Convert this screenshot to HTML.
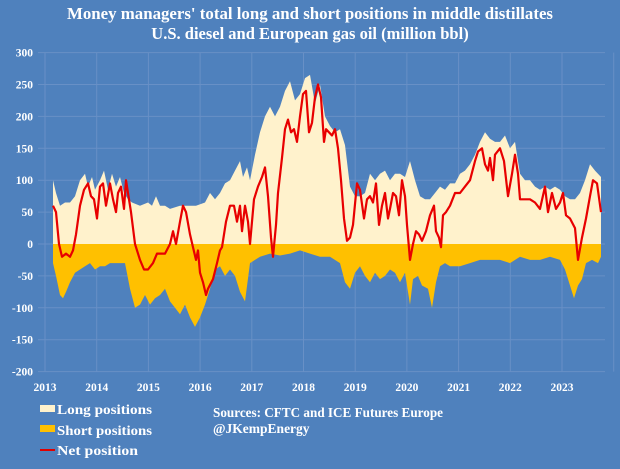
<!DOCTYPE html>
<html><head><meta charset="utf-8"><style>
html,body{margin:0;padding:0;background:#4F81BD;}
svg{display:block;font-family:"Liberation Serif",serif;}
</style></head><body>
<svg id="s" width="620" height="469" viewBox="0 0 620 469">
<rect width="620" height="469" fill="#4F81BD"/>
<text x="310" y="19" fill="#fff" font-size="16.5" font-weight="bold" text-anchor="middle" textLength="486" lengthAdjust="spacingAndGlyphs">Money managers' total long and short positions in middle distillates</text>
<text x="310" y="39" fill="#fff" font-size="16.5" font-weight="bold" text-anchor="middle">U.S. diesel and European gas oil  (million bbl)</text>
<g id="grid" stroke="#6890C6" stroke-width="1"></g>
<g id="data"></g>
<g id="labels" fill="#fff" font-size="11.5" font-weight="bold"></g>
<rect x="40" y="405" width="15" height="7" fill="#FFF2CC"/>
<rect x="40" y="425" width="15" height="7" fill="#FFC000"/>
<rect x="40" y="449" width="15" height="2" fill="#E00000"/>
<g fill="#fff" font-size="13.5" font-weight="bold">
<text x="57" y="414" textLength="95" lengthAdjust="spacingAndGlyphs">Long positions</text>
<text x="57" y="435" textLength="95" lengthAdjust="spacingAndGlyphs">Short positions</text>
<text x="57" y="455" textLength="81" lengthAdjust="spacingAndGlyphs">Net position</text>
<text x="213" y="417" textLength="230" lengthAdjust="spacingAndGlyphs">Sources: CFTC and ICE Futures Europe</text>
<text x="213" y="433">@JKempEnergy</text>
</g>
</svg>
<script>
var NS="http://www.w3.org/2000/svg";
function Y(v){return 244-v*0.638;}
function el(t,a,p){var e=document.createElementNS(NS,t);for(var k in a)e.setAttribute(k,a[k]);document.getElementById(p).appendChild(e);return e;}
for(var v=-200;v<=300;v+=50){el('line',{x1:38,x2:605,y1:Y(v),y2:Y(v)},'grid');var t=el('text',{x:33,y:Y(v)+4,'text-anchor':'end'},'labels');t.textContent=v;}
for(var i=0;i<=11;i++){var x=45+i*51.7;el('line',{x1:x,x2:x,y1:Y(300),y2:Y(-200)},'grid');if(i<11){var t=el('text',{x:x,y:391,'text-anchor':'middle'},'labels');t.textContent=2013+i;}}
var L=[[53,100],[56,80],[60,60],[65,65],[70,65],[75,75],[80,100],[85,110],[88,90],[92,105],[95,85],[100,100],[104,115],[108,85],[112,110],[116,90],[120,105],[124,80],[128,70],[132,65],[140,60],[148,65],[152,60],[156,75],[160,60],[165,60],[170,55],[180,60],[188,60],[196,60],[205,65],[210,80],[215,70],[220,80],[225,95],[230,100],[235,115],[240,130],[243,105],[247,120],[250,100],[255,140],[260,175],[265,200],[270,215],[275,200],[280,215],[285,240],[290,255],[295,225],[300,235],[305,260],[310,265],[315,220],[320,250],[325,200],[330,185],[335,175],[340,180],[345,155],[350,90],[355,75],[360,75],[365,80],[370,110],[375,100],[380,110],[385,115],[390,100],[395,110],[400,110],[405,105],[410,130],[415,100],[420,75],[425,70],[430,70],[435,80],[440,90],[445,85],[450,95],[455,95],[460,110],[465,115],[470,125],[475,140],[480,160],[485,175],[490,165],[495,160],[500,160],[505,170],[510,150],[515,160],[520,110],[525,100],[530,100],[535,90],[540,85],[545,90],[550,85],[555,90],[560,85],[565,75],[570,70],[575,70],[580,80],[585,100],[590,125],[595,115],[601,105]];
var S=[[53,-30],[56,-50],[60,-80],[63,-85],[66,-75],[70,-60],[75,-45],[80,-40],[85,-35],[90,-30],[95,-40],[100,-35],[105,-35],[110,-30],[115,-30],[120,-30],[125,-30],[130,-70],[135,-100],[140,-95],[145,-80],[150,-95],[155,-85],[160,-80],[165,-70],[170,-90],[175,-100],[180,-110],[185,-95],[190,-115],[195,-130],[200,-115],[205,-95],[210,-70],[215,-40],[220,-35],[225,-50],[230,-40],[235,-50],[240,-75],[245,-90],[250,-30],[255,-25],[260,-20],[270,-15],[280,-18],[290,-15],[300,-10],[310,-15],[320,-20],[330,-20],[340,-30],[345,-60],[350,-70],[355,-45],[360,-35],[365,-50],[370,-60],[375,-45],[380,-55],[385,-50],[390,-40],[395,-45],[400,-60],[405,-45],[410,-95],[413,-55],[418,-50],[422,-65],[428,-70],[432,-100],[436,-60],[440,-35],[445,-30],[450,-35],[460,-35],[470,-30],[480,-25],[490,-25],[500,-25],[510,-30],[520,-20],[530,-25],[540,-25],[550,-20],[560,-25],[565,-40],[570,-65],[574,-85],[578,-65],[582,-55],[586,-30],[592,-25],[598,-30],[601,-20]];
var N=[[53,60],[56,50],[59,0],[62,-20],[66,-15],[70,-20],[73,-10],[76,15],[80,60],[84,85],[88,95],[91,75],[94,70],[97,40],[100,90],[103,95],[106,60],[110,95],[113,70],[116,50],[118,80],[121,90],[124,55],[126,100],[128,80],[131,50],[135,0],[140,-25],[144,-40],[148,-40],[153,-30],[157,-15],[160,-15],[165,-15],[170,0],[173,20],[176,0],[180,35],[183,60],[186,50],[190,15],[193,-5],[196,-25],[198,-10],[200,-45],[203,-60],[206,-80],[208,-70],[213,-55],[217,-30],[220,-10],[222,-5],[226,35],[230,60],[234,60],[237,35],[240,60],[242,20],[245,60],[248,35],[250,0],[254,70],[258,90],[262,105],[265,120],[268,75],[271,10],[273,-20],[276,30],[278,80],[282,135],[285,180],[288,195],[291,175],[294,180],[297,160],[300,200],[303,235],[306,240],[309,175],[312,190],[315,230],[318,250],[321,230],[324,160],[326,180],[329,175],[332,170],[335,180],[338,150],[341,100],[344,40],[347,5],[350,10],[353,30],[357,95],[360,85],[364,40],[367,70],[370,75],[373,65],[376,95],[379,30],[382,60],[385,80],[388,40],[390,55],[393,80],[396,75],[399,45],[402,100],[405,75],[407,30],[410,-25],[413,0],[416,20],[419,15],[422,5],[426,20],[430,45],[434,60],[436,20],[439,10],[441,-5],[443,45],[446,50],[450,60],[455,80],[460,80],[465,90],[470,100],[475,130],[478,145],[482,150],[485,125],[488,115],[490,135],[493,100],[495,140],[500,150],[504,130],[508,75],[512,110],[515,140],[518,110],[520,70],[525,70],[530,70],[535,65],[540,55],[545,90],[548,50],[552,80],[556,55],[560,65],[563,80],[566,45],[570,40],[575,25],[578,-25],[582,10],[586,40],[590,75],[593,100],[597,95],[601,50]];
function area(a){var d="M"+a[0][0]+","+Y(0);a.forEach(function(p){d+=" L"+p[0]+","+Y(p[1]).toFixed(1);});return d+" L"+a[a.length-1][0]+","+Y(0)+"Z";}
el('path',{d:area(L),fill:'#FFF2CC'},'data');
el('path',{d:area(S),fill:'#FFC000'},'data');
var d="";N.forEach(function(p,i){d+=(i?" L":"M")+p[0]+","+Y(p[1]).toFixed(1);});
el('path',{d:d,fill:'none',stroke:'#E80000','stroke-width':2.2,'stroke-linejoin':'round'},'data');
</script>
</body></html>
